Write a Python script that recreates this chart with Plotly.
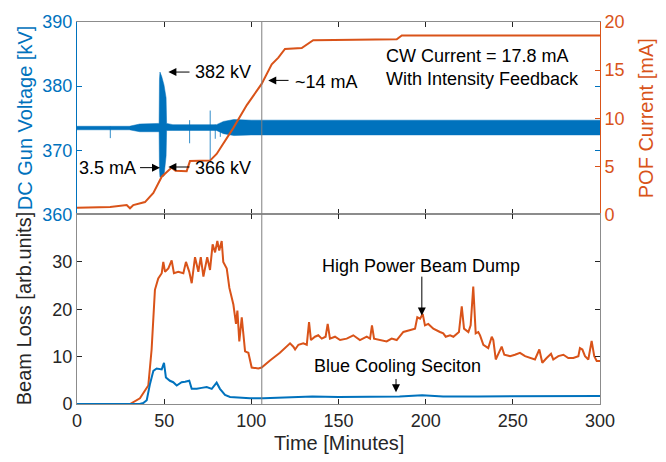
import plotly.graph_objects as go

# ---------------- data ----------------
# Top panel: POF current [mA] (right axis)
pof_t = [0, 19, 28.5, 30.4, 32.3, 39, 43.8, 48.6, 54.3, 56.5, 62.9, 64.8, 76.3, 80.1,
         89.7, 97.4, 105.9, 111.7, 115.5, 119.3, 128.9, 135.5, 183.4, 186.3, 300]
pof_mA = [0.7, 0.78, 0.98, 0.64, 0.98, 1.29, 2.23, 3.93, 4.87, 4.55, 4.5, 5.55, 5.6, 6.29,
          9.0, 11.37, 13.57, 15.6, 16.3, 17.2, 17.3, 18.1, 18.2, 18.6, 18.6]

# Top panel: DC gun voltage noise envelope [kV] (left axis)
volt_t = [0, 30, 36, 44, 47.1, 47.3, 47.6, 48.6, 49.9, 51.1, 51.4, 55, 80, 84, 90, 100, 300]
volt_hi = [373.75, 373.75, 374.1, 374.2, 374.2, 381.0, 382.2, 381.5, 380.2, 378.2, 374.2,
           374.0, 374.0, 374.5, 374.8, 374.7, 374.7]
volt_lo = [373.2, 373.2, 372.9, 372.9, 372.9, 367.0, 365.8, 365.9, 366.0, 369.1, 373.1,
           373.1, 373.1, 372.6, 372.3, 372.4, 372.4]

# isolated thin voltage spikes
spike_t = [19.1, 64.6, 76.4, 79.3, 82.2]
spike_hi = [373.7, 374.7, 376.2, 374.0, 374.2]
spike_lo = [371.9, 371.1, 368.1, 371.8, 372.1]

# Bottom panel: beam loss [arb. units]
dump_t = [0, 30.4, 36.1, 39, 40.9, 42.8, 44.7, 46.6, 48.6, 49.5, 50.5, 52.4, 54.3, 55.6, 58.1,
          61, 62.5, 64.4, 65.8, 67.7, 69.6, 71, 72.5, 74.7, 76.3, 77.8, 79.2, 80.5, 81.6, 83,
          83.9, 85.9, 87.4, 89.7, 91.2, 92, 93.1, 94.5, 96.4, 98.3, 100.2, 104, 105.9, 110.7,
          116.4, 122.2, 124.1, 125.1, 127, 129.8, 131.8, 133.1, 134.2, 136.5, 138.4, 140.4,
          142.6, 143.8, 145.1, 148, 150.9, 154.7, 158.5, 162.3, 166.2, 168.1, 169.2, 170.4,
          173.8, 177.6, 180.5, 183.4, 187.2, 191, 193.9, 195.2, 196.8, 198.3, 199.6, 201.5,
          204.4, 208.2, 210.1, 211.5, 214, 215.9, 217.8, 219.1, 220.7, 222, 224.5, 225.8,
          227.3, 228.7, 230.2, 231.2, 233.1, 235.9, 237.9, 238.8, 240.2, 242.1, 243.6, 245.1,
          248.4, 251.2, 254.1, 257, 259.8, 262.7, 265.2, 266.9, 269.4, 271.9, 273.2, 276.1,
          279, 281.8, 284.7, 287.6, 288.5, 289.9, 291.4, 293.3, 295.2, 296.7, 298.1, 300]
dump_loss = [0, 0, 1.2, 2.9, 3.9, 11.5, 24.1, 26.5, 27.6, 30.0, 27.9, 28.6, 30.3, 27.6, 27.9,
             27.6, 30.0, 27.9, 25.5, 31.0, 27.9, 31.0, 26.9, 31.0, 28.3, 33.7, 32.0, 34.4, 32.4,
             34.4, 30.0, 28.6, 24.5, 21.0, 16.9, 19.7, 13.2, 18.3, 11.1, 10.8, 7.7, 7.5, 7.7,
             9.2, 10.8, 12.8, 12.1, 11.5, 12.5, 12.8, 12.5, 17.3, 13.5, 14.2, 14.5, 13.8, 14.2,
             16.9, 13.8, 14.2, 13.5, 13.8, 14.5, 13.5, 14.2, 13.8, 16.6, 13.8, 13.5, 13.2, 13.8,
             13.5, 15.2, 15.6, 15.9, 18.3, 18.0, 19.0, 16.6, 16.9, 15.9, 15.2, 14.9, 14.2, 14.5,
             14.2, 14.9, 15.2, 20.6, 15.9, 15.2, 16.6, 24.8, 14.9, 15.2, 14.5, 12.5, 11.8, 14.2,
             13.5, 9.4, 10.8, 12.1, 10.4, 10.1, 10.4, 10.8, 10.1, 9.7, 9.4, 11.5, 8.7, 9.7, 10.6,
             9.4, 10.1, 10.4, 9.7, 9.7, 10.1, 11.8, 11.5, 10.1, 9.4, 13.3, 10.1, 9.1, 9.1]

cool_t = [0, 36, 38, 40, 41.9, 43.8, 45.7, 48.6, 49.9, 51, 53.3, 55.2, 57.2, 60, 62, 64.4, 65.8,
          68.7, 71.5, 74.4, 77.3, 80.1, 82, 84.9, 87.8, 93.5, 99.2, 106.9, 120, 135, 150, 170,
          185, 198, 210, 230, 250, 270, 300]
cool_loss = [0, 0, 0.2, 0.8, 4.3, 7.0, 7.5, 7.3, 8.7, 5.6, 4.9, 4.6, 3.9, 4.6, 4.7, 4.9, 3.2,
             3.2, 3.4, 3.6, 3.2, 4.5, 3.2, 1.9, 1.5, 1.3, 1.2, 1.2, 1.4, 1.6, 1.5, 1.5, 1.6,
             1.85, 1.6, 1.6, 1.65, 1.6, 1.7]

marker_t = 106
x_ticks = [0, 50, 100, 150, 200, 250, 300]
kv_ticks = [360, 370, 380, 390]
ma_ticks = [0, 5, 10, 15, 20]
loss_ticks = [0, 10, 20, 30]

# ---------------- style ----------------
BLUE = "#0072BD"
ORANGE = "#D95319"
DARK = "#262626"
GRAY = "#8c8c8c"
FONT = "Liberation Sans, Arial, sans-serif"
SPLIT = 0.4961

fig = go.Figure()

# voltage band
fig.add_trace(go.Scatter(x=volt_t, y=volt_lo, mode="lines", line=dict(color=BLUE, width=0.5),
                         xaxis="x", yaxis="y", showlegend=False, hoverinfo="skip"))
fig.add_trace(go.Scatter(x=volt_t, y=volt_hi, mode="lines", line=dict(color=BLUE, width=0.5),
                         fill="tonexty", fillcolor=BLUE,
                         xaxis="x", yaxis="y", showlegend=False, hoverinfo="skip"))
sx, sy = [], []
for t, lo, hi in zip(spike_t, spike_lo, spike_hi):
    sx += [t, t, None]
    sy += [lo, hi, None]
fig.add_trace(go.Scatter(x=sx, y=sy, mode="lines", line=dict(color=BLUE, width=1),
                         opacity=0.8, xaxis="x", yaxis="y", showlegend=False, hoverinfo="skip"))

# POF current
fig.add_trace(go.Scatter(x=pof_t, y=pof_mA, mode="lines", line=dict(color=ORANGE, width=2),
                         xaxis="x", yaxis="y2", showlegend=False))

# beam loss
fig.add_trace(go.Scatter(x=dump_t, y=dump_loss, mode="lines", line=dict(color=ORANGE, width=2),
                         xaxis="x2", yaxis="y3", showlegend=False))
fig.add_trace(go.Scatter(x=cool_t, y=cool_loss, mode="lines", line=dict(color=BLUE, width=2),
                         xaxis="x2", yaxis="y3", showlegend=False))

tickfont = dict(family=FONT, size=18, color=DARK)

fig.update_layout(
    width=666, height=462,
    margin=dict(l=77, r=66, t=15, b=58),
    paper_bgcolor="white", plot_bgcolor="white",
    font=dict(family=FONT, size=18, color=DARK),
    xaxis=dict(domain=[0, 1], anchor="y", range=[0, 300], tickvals=x_ticks, showticklabels=False,
               ticks="inside", ticklen=5, tickcolor=DARK, showline=True, linecolor=GRAY,
               mirror="ticks", showgrid=False, zeroline=False),
    yaxis=dict(domain=[SPLIT, 1], anchor="x", range=[360, 390], tickvals=kv_ticks,
               ticks="inside", ticklen=5, tickcolor=BLUE, showline=True, linecolor=BLUE,
               mirror="ticks", showgrid=False, zeroline=False,
               tickfont=dict(family=FONT, size=18, color=BLUE)),
    yaxis2=dict(overlaying="y", side="right", anchor="x", range=[0, 20], tickvals=ma_ticks,
                ticks="inside", ticklen=5, tickcolor=ORANGE, showline=True, linecolor=ORANGE,
                showgrid=False, zeroline=False,
                tickfont=dict(family=FONT, size=18, color=ORANGE)),
    xaxis2=dict(domain=[0, 1], anchor="y3", range=[0, 300], tickvals=x_ticks,
                ticks="inside", ticklen=5, tickcolor=DARK, showline=True, linecolor=GRAY,
                mirror="ticks", showgrid=False, zeroline=False, tickfont=tickfont),
    yaxis3=dict(domain=[0, SPLIT], anchor="x2", range=[0, 40], tickvals=loss_ticks,
                ticks="inside", ticklen=5, tickcolor=DARK, showline=True, linecolor=GRAY,
                mirror="ticks", showgrid=False, zeroline=False, tickfont=tickfont),
)

fig.add_shape(type="line", xref="x", yref="paper", x0=marker_t, x1=marker_t, y0=0, y1=1,
              line=dict(color="#7f7f7f", width=1), layer="above")

# axis titles
fig.add_annotation(text="DC Gun Voltage [kV]", xref="paper", yref="paper",
                   x=(25 - 77) / 523, y=(SPLIT + 1) / 2, textangle=-90, showarrow=False,
                   xanchor="center", yanchor="middle", font=dict(family=FONT, size=20, color=BLUE))
fig.add_annotation(text="POF Current [mA]", xref="paper", yref="paper",
                   x=(646 - 77) / 523, y=(SPLIT + 1) / 2, textangle=-90, showarrow=False,
                   xanchor="center", yanchor="middle", font=dict(family=FONT, size=20, color=ORANGE))
fig.add_annotation(text="Beam Loss [arb.units]", xref="paper", yref="paper",
                   x=(24 - 77) / 523, y=SPLIT / 2, textangle=-90, showarrow=False,
                   xanchor="center", yanchor="middle", font=dict(family=FONT, size=20, color=DARK))
fig.add_annotation(text="Time [Minutes]", xref="paper", yref="paper",
                   x=0.5, y=(404 - 444) / 389, showarrow=False,
                   xanchor="center", yanchor="middle", font=dict(family=FONT, size=20, color=DARK))

afont = dict(family=FONT, size=18, color="black")

def arrow(xr, yr, x, y, axv, ayv):
    fig.add_annotation(text="", xref=xr, yref=yr, axref=xr, ayref=yr, x=x, y=y, ax=axv, ay=ayv,
                       showarrow=True, arrowhead=2, arrowsize=1.6, arrowwidth=1,
                       arrowcolor="black")

def label(xr, yr, x, y, txt, anchor):
    fig.add_annotation(text=txt, xref=xr, yref=yr, x=x, y=y, showarrow=False,
                       xanchor=anchor, yanchor="middle", font=afont)

# top panel annotations
arrow("x", "y", 52.4, 382.2, 65.4, 382.2)
label("x", "y", 66.5, 382.2, "382 kV", "left")
arrow("x", "y", 52.4, 367.4, 65.4, 367.4)
label("x", "y", 66.5, 367.2, "366 kV", "left")
arrow("x", "y", 47.6, 367.3, 35.3, 367.3)
label("x", "y", 35.0, 367.2, "3.5 mA", "right")
arrow("x", "y", 109.7, 380.9, 122.2, 380.9)
label("x", "y", 124.1, 380.7, "~14 mA", "left")
label("x", "y", 176.1, 384.75, "CW Current = 17.8 mA", "left")
label("x", "y", 176.1, 381.1, "With Intensity Feedback", "left")

# bottom panel annotations
label("x2", "y3", 197.3, 29.2, "High Power Beam Dump", "center")
arrow("x2", "y3", 197.8, 18.7, 197.8, 27.2)
label("x2", "y3", 134.6, 8.0, "Blue Cooling Seciton", "left")
arrow("x2", "y3", 183, 2.5, 183, 5.6)

fig.write_html("out.html", config={"displayModeBar": False},
               post_script="document.body.style.margin='0';")
